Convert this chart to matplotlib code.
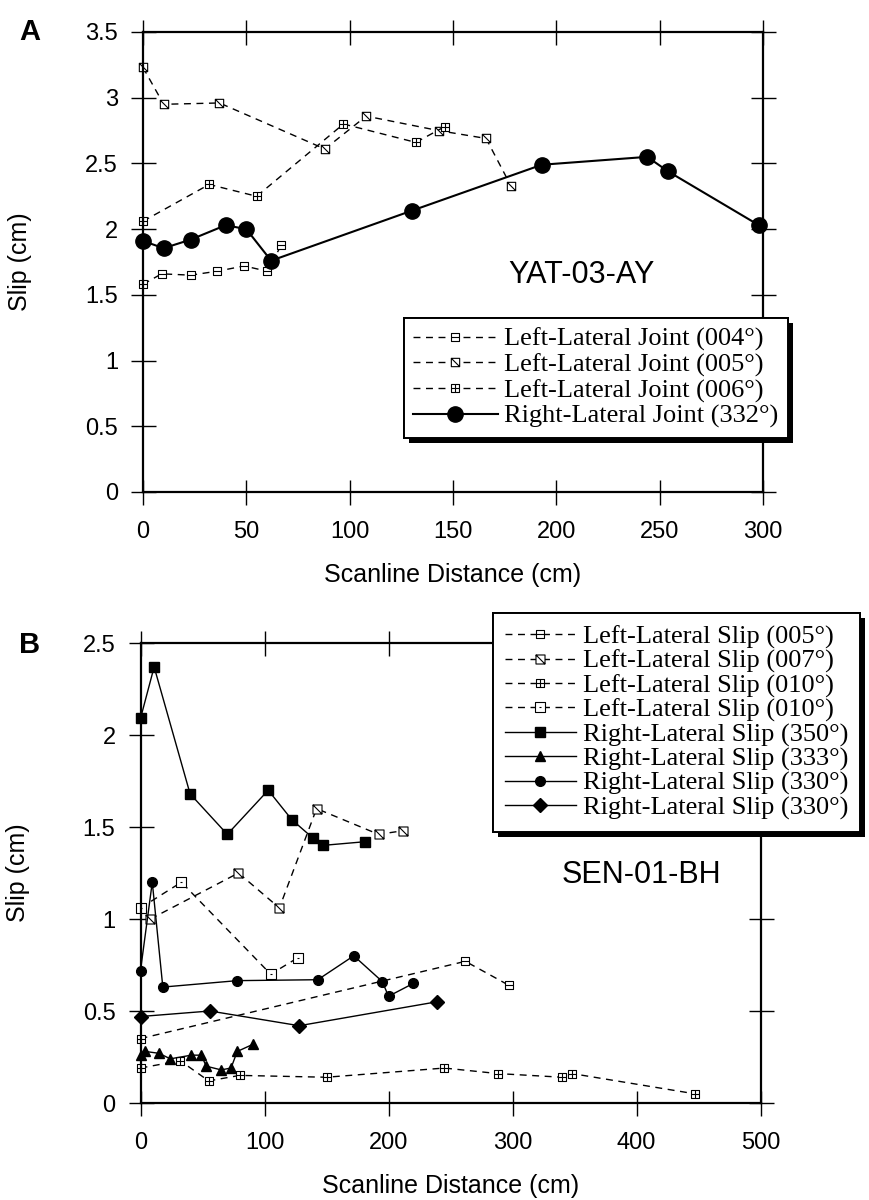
import numpy as np
import matplotlib
matplotlib.use('Agg')
import matplotlib.pyplot as plt
from matplotlib.path import Path
import matplotlib.patheffects as pe

# ---- Panel A: YAT-03-AY ----
a_004_x = [0, 9, 23, 36, 49, 60, 67]
a_004_y = [1.58, 1.66, 1.65, 1.68, 1.72, 1.68, 1.88]
a_005_x = [0, 10, 37, 88, 108, 143, 166, 178]
a_005_y = [3.23, 2.95, 2.96, 2.61, 2.86, 2.75, 2.69, 2.33]
a_006_x = [0, 32, 55, 97, 132, 146]
a_006_y = [2.06, 2.34, 2.25, 2.80, 2.66, 2.78]
a_332_x = [0, 10, 23, 40, 50, 62, 130, 193, 244, 254, 298]
a_332_y = [1.91, 1.855, 1.92, 2.03, 2.00, 1.76, 2.14, 2.49, 2.55, 2.44, 2.03]

# ---- Panel B: SEN-01-BH ----
b_005_x = [0, 262, 297]
b_005_y = [0.35, 0.77, 0.64]
b_007_x = [8, 79, 112, 142, 192, 212]
b_007_y = [1.0, 1.25, 1.06, 1.60, 1.46, 1.48]
b_010a_x = [0, 32, 55, 80, 150, 245, 288, 340, 348, 447]
b_010a_y = [0.19, 0.23, 0.12, 0.15, 0.14, 0.19, 0.16, 0.14, 0.16, 0.05]
b_010b_x = [0, 33, 105, 127]
b_010b_y = [1.06, 1.20, 0.70, 0.79]
b_350_x = [0, 11, 40, 70, 103, 122, 139, 147, 181]
b_350_y = [2.09, 2.37, 1.68, 1.46, 1.70, 1.54, 1.44, 1.40, 1.42]
b_333_x = [0, 4, 15, 24, 41, 49, 53, 65, 73, 78, 91]
b_333_y = [0.26, 0.28, 0.27, 0.24, 0.26, 0.26, 0.20, 0.18, 0.19, 0.28, 0.32]
b_330a_x = [0, 9.5, 18, 78, 143, 172, 195, 200, 220]
b_330a_y = [0.72, 1.20, 0.63, 0.665, 0.67, 0.80, 0.66, 0.58, 0.65]
b_330b_x = [0, 56, 128, 239]
b_330b_y = [0.47, 0.50, 0.42, 0.55]

a_labels = ["Left-Lateral Joint (004°)", "Left-Lateral Joint (005°)",
            "Left-Lateral Joint (006°)", "Right-Lateral Joint (332°)"]
b_labels = ["Left-Lateral Slip (005°)", "Left-Lateral Slip (007°)",
            "Left-Lateral Slip (010°)", "Left-Lateral Slip (010°)",
            "Right-Lateral Slip (350°)", "Right-Lateral Slip (333°)",
            "Right-Lateral Slip (330°)", "Right-Lateral Slip (330°)"]


def box_marker(inner):
    # open square with a line pattern inside
    verts = [(-1, -1), (1, -1), (1, 1), (-1, 1), (-1, -1)]
    codes = [Path.MOVETO, Path.LINETO, Path.LINETO, Path.LINETO, Path.CLOSEPOLY]
    for seg in inner:
        verts += list(seg)
        codes += [Path.MOVETO, Path.LINETO]
    return Path(verts, codes)


m_hline = box_marker([((-1, 0), (1, 0))])
m_slash = box_marker([((-1, 1), (1, -1))])
m_cross = box_marker([((-1, 0), (1, 0)), ((0, -1), (0, 1))])
m_dot = box_marker([((-0.12, 0), (0.12, 0))])

sans = ['Liberation Sans', 'DejaVu Sans']
serif = ['Liberation Serif', 'DejaVu Serif']
plt.rcParams['font.family'] = sans

dash = (0, (5, 4))
open_kw = dict(color='black', lw=1.0, ls=dash, mfc='white', mec='black', mew=0.8, clip_on=False)

fig = plt.figure(figsize=(8.69, 12), dpi=100)
ax_a = fig.add_axes([143 / 869, 1 - 492 / 1200, 620 / 869, 460 / 1200])
ax_b = fig.add_axes([140.5 / 869, 1 - 1103 / 1200, 620 / 869, 460 / 1200])


def style_axes(ax):
    for s in ax.spines.values():
        s.set_linewidth(1.6)
    ax.tick_params(direction='inout', length=18, width=1.0, labelsize=17,
                   top=True, right=True)
    ax.tick_params(axis='y', pad=9)
    ax.tick_params(axis='x', pad=12)
    ax.set_xlabel('Scanline Distance (cm)', fontsize=18, labelpad=14)
    ax.set_ylabel('Slip (cm)', fontsize=18, labelpad=38)


# Panel A
ax_a.plot(a_004_x, a_004_y, marker=m_hline, ms=6, **open_kw)
ax_a.plot(a_005_x, a_005_y, marker=m_slash, ms=6, **open_kw)
ax_a.plot(a_006_x, a_006_y, marker=m_cross, ms=6, **open_kw)
ax_a.plot(a_332_x, a_332_y, color='black', lw=1.5, marker='o', ms=11, clip_on=False)
ax_a.set_xlim(0, 300)
ax_a.set_ylim(0, 3.5)
ax_a.set_xticks([0, 50, 100, 150, 200, 250, 300])
ax_a.set_yticks([0, 0.5, 1, 1.5, 2, 2.5, 3, 3.5],
                ['0', '0.5', '1', '1.5', '2', '2.5', '3', '3.5'])
style_axes(ax_a)
ax_a.text(212, 1.65, 'YAT-03-AY', fontsize=22, ha='center', va='center')
leg_a = ax_a.legend(a_labels, loc='upper left', bbox_to_anchor=(0.421, 0.378),
                    borderaxespad=0, prop={'family': serif, 'size': 19},
                    handlelength=3.2, handletextpad=0.25, labelspacing=0.07,
                    borderpad=0.35, fancybox=False, framealpha=1,
                    edgecolor='black')

# Panel B
ax_b.plot(b_005_x, b_005_y, marker=m_hline, ms=6, **open_kw)
ax_b.plot(b_007_x, b_007_y, marker=m_slash, ms=6.5, **open_kw)
ax_b.plot(b_010a_x, b_010a_y, marker=m_cross, ms=6, **open_kw)
ax_b.plot(b_010b_x, b_010b_y, marker=m_dot, ms=6.5, **open_kw)
ax_b.plot(b_350_x, b_350_y, color='black', lw=1.0, marker='s', ms=7, clip_on=False)
ax_b.plot(b_333_x, b_333_y, color='black', lw=1.0, marker='^', ms=6.5, clip_on=False)
ax_b.plot(b_330a_x, b_330a_y, color='black', lw=1.0, marker='o', ms=7, clip_on=False)
ax_b.plot(b_330b_x, b_330b_y, color='black', lw=1.0, marker='D', ms=7.5, clip_on=False)
ax_b.set_xlim(0, 500)
ax_b.set_ylim(0, 2.5)
ax_b.set_xticks([0, 100, 200, 300, 400, 500])
ax_b.set_yticks([0, 0.5, 1, 1.5, 2, 2.5], ['0', '0.5', '1', '1.5', '2', '2.5'])
style_axes(ax_b)
ax_b.text(404, 1.24, 'SEN-01-BH', fontsize=22, ha='center', va='center')
leg_b = ax_b.legend(b_labels, loc='upper left', bbox_to_anchor=(0.5685, 1.065),
                    borderaxespad=0, prop={'family': serif, 'size': 19},
                    handlelength=2.7, handletextpad=0.25, labelspacing=0.02,
                    borderpad=0.45, fancybox=False, framealpha=1,
                    edgecolor='black')

for leg in (leg_a, leg_b):
    fr = leg.get_frame()
    fr.set_linewidth(1.4)
    fr.set_path_effects([pe.withSimplePatchShadow(offset=(3.5, -3.5), shadow_rgbFace='black',
                                                  alpha=1.0), pe.Normal()])

fig.text(30 / 869, 1 - 32 / 1200, 'A', fontsize=21, fontweight='bold', ha='center', va='center')
fig.text(30 / 869, 1 - 645 / 1200, 'B', fontsize=21, fontweight='bold', ha='center', va='center')

fig.savefig('out.png', dpi=100)
